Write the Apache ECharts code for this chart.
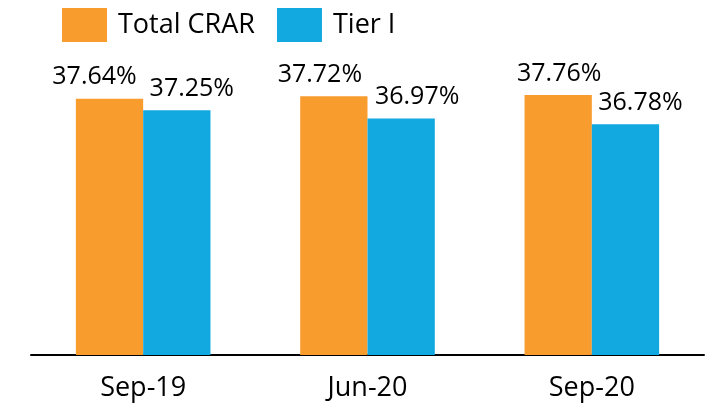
<!DOCTYPE html>
<html>
<head>
<meta charset="utf-8">
<script src="https://cdn.jsdelivr.net/npm/echarts@6/dist/echarts.min.js"></script>
<style>
  html, body { margin: 0; padding: 0; background: #fff; }
</style>
</head>
<body>
<div id="main" style="width: 707px;height:404px;"></div>
<script>
// periods on x axis
var categories = ['Sep-19', 'Jun-20', 'Sep-20'];
// capital adequacy ratios (%)
var totalCrar = [37.64, 37.72, 37.76];
var tierOne = [37.25, 36.97, 36.78];

// labels are nudged sideways like in the original slide
var crarShift = [-15, -14, 1];
var tierShift = [15, 16, 15];

var chartDom = document.getElementById('main');
var myChart = echarts.init(chartDom);
var option;

function withShift(values, shifts) {
  return values.map(function (v, i) {
    return { value: v, label: { offset: [shifts[i], 0] } };
  });
}

var labelStyle = {
  show: true,
  position: 'top',
  distance: 9,
  color: '#000',
  fontFamily: 'Open Sans',
  fontSize: 25,
  formatter: function (p) { return p.value.toFixed(2) + '%'; }
};

option = {
  animation: false,
  textStyle: { fontFamily: 'Open Sans' },
  legend: {
    left: 57,
    top: 3,
    icon: 'rect',
    itemWidth: 45,
    itemHeight: 34,
    itemGap: 22,
    textStyle: { fontSize: 27, color: '#000', padding: [0, 0, 0, 6] },
    data: ['Total CRAR', 'Tier I']
  },
  grid: {
    left: 31,
    right: 3,
    top: 88,
    bottom: 49,
    containLabel: false
  },
  xAxis: {
    type: 'category',
    data: categories,
    axisLine: { lineStyle: { color: '#000', width: 2 } },
    axisTick: { show: false },
    axisLabel: { fontSize: 27, color: '#000', margin: 20 }
  },
  yAxis: {
    type: 'value',
    min: 29,
    max: 38,
    show: false,
    splitLine: { show: false }
  },
  series: [
    {
      name: 'Total CRAR',
      type: 'bar',
      barWidth: '30%',
      barGap: '0%',
      itemStyle: { color: '#F99C2E' },
      label: labelStyle,
      data: withShift(totalCrar, crarShift)
    },
    {
      name: 'Tier I',
      type: 'bar',
      barWidth: '30%',
      itemStyle: { color: '#12A9E1' },
      label: labelStyle,
      data: withShift(tierOne, tierShift)
    }
  ]
};

option && myChart.setOption(option);
</script>
</body>
</html>
